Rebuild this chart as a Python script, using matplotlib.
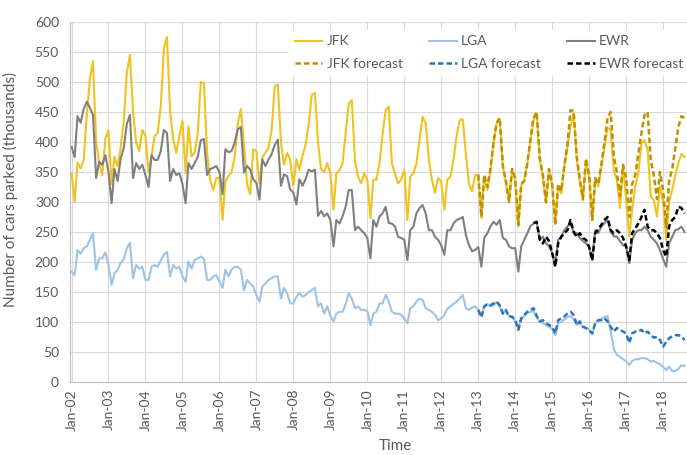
import matplotlib
matplotlib.use('Agg')
import matplotlib.pyplot as plt
import matplotlib.dates as mdates
import pandas as pd

plt.rcParams['font.family'] = ['Lato', 'DejaVu Sans']

## monthly parked cars (thousands), Jan-02 .. Aug-18
jfk = [348, 300, 366, 356, 370, 445, 505, 535, 400, 365, 345, 405,
       420, 330, 375, 360, 390, 435, 515, 545, 450, 400, 385, 420,
       410, 350, 375, 410, 415, 460, 555, 575, 450, 405, 382, 410,
       435, 348, 426, 376, 382, 415, 500, 498, 382, 337, 320, 340,
       340, 270, 335, 343, 350, 375, 430, 455, 395, 330, 313, 388,
       385, 330, 374, 382, 390, 420, 493, 496, 399, 362, 382, 371,
       327, 371, 354, 377, 395, 430, 478, 482, 400, 355, 350, 365,
       348, 287, 348, 353, 364, 414, 464, 470, 370, 342, 331, 348,
       337, 273, 337, 337, 364, 414, 453, 459, 364, 348, 331, 337,
       353, 270, 342, 348, 364, 403, 442, 431, 370, 337, 315, 340,
       334, 287, 337, 342, 370, 410, 436, 438, 380, 330, 318, 345,
       345, 273, 342, 320, 353, 398, 431, 439, 359, 331, 303, 353,
       337, 259, 328, 337, 364, 403, 437, 448, 370, 342, 298, 353,
       326, 264, 326, 314, 359, 392, 426, 448, 370, 334, 303, 370,
       342, 270, 337, 326, 359, 392, 424, 420, 353, 337, 290, 359,
       303, 243, 287, 326, 348, 398, 403, 387, 309, 303, 276, 326,
       300, 237, 300, 320, 345, 365, 380, 375]

lga = [184, 178, 220, 214, 223, 226, 237, 248, 187, 206, 206, 216,
       195, 162, 181, 187, 198, 205, 223, 232, 173, 195, 189, 192,
       170, 170, 192, 195, 192, 203, 212, 217, 176, 195, 189, 192,
       176, 167, 201, 189, 203, 206, 209, 206, 170, 170, 176, 178,
       168, 157, 187, 176, 187, 192, 192, 187, 153, 170, 164, 159,
       145, 134, 159, 164, 170, 173, 176, 176, 139, 157, 148, 131,
       131, 142, 148, 142, 145, 150, 153, 157, 126, 131, 114, 126,
       110, 101, 114, 117, 117, 130, 148, 139, 123, 126, 120, 120,
       118, 95, 114, 117, 131, 131, 145, 134, 117, 114, 114, 112,
       106, 98, 123, 126, 134, 139, 137, 123, 120, 117, 112, 103,
       106, 112, 122, 126, 130, 134, 139, 145, 123, 120, 124, 126,
       120, 110, 125, 130, 126, 128, 133, 126, 115, 118, 110, 108,
       102, 90, 105, 110, 115, 117, 118, 108, 100, 98, 95, 92,
       88, 78, 98, 100, 104, 108, 110, 105, 95, 98, 92, 90,
       88, 80, 98, 102, 105, 108, 110, 85, 55, 45, 42, 38,
       35, 28, 35, 38, 38, 40, 40, 38, 34, 35, 32, 30,
       25, 20, 26, 18, 18, 22, 28, 27]

ewr = [392, 375, 443, 432, 455, 467, 457, 445, 340, 367, 362, 378,
       350, 298, 355, 335, 372, 390, 430, 445, 340, 365, 355, 362,
       345, 325, 378, 370, 370, 385, 420, 415, 335, 355, 345, 348,
       330, 298, 365, 355, 365, 375, 403, 405, 345, 355, 357, 360,
       350, 313, 388, 383, 385, 399, 421, 425, 349, 360, 354, 338,
       332, 304, 371, 360, 371, 380, 395, 404, 327, 346, 343, 321,
       316, 296, 338, 327, 338, 354, 351, 354, 277, 285, 276, 281,
       270, 226, 270, 264, 276, 292, 320, 320, 253, 259, 253, 248,
       240, 206, 270, 259, 276, 281, 292, 265, 264, 259, 242, 240,
       237, 203, 253, 259, 281, 290, 295, 281, 253, 253, 242, 237,
       228, 212, 253, 253, 264, 270, 272, 275, 245, 228, 218, 220,
       225, 192, 240, 248, 259, 267, 262, 270, 240, 237, 226, 223,
       223, 184, 226, 237, 248, 260, 264, 266, 237, 242, 231, 226,
       215, 195, 237, 242, 253, 259, 265, 250, 248, 240, 235, 231,
       226, 203, 253, 248, 259, 265, 270, 250, 243, 242, 235, 228,
       226, 198, 237, 248, 253, 253, 259, 253, 242, 237, 231, 220,
       205, 192, 231, 242, 253, 255, 259, 250]

# forecasts: JFK and LGA from Jan-13, EWR from Jul-14
jfk_fc = [345, 275, 345, 325, 355, 400, 432, 440, 360, 335, 300, 355,
          340, 262, 330, 335, 365, 405, 440, 450, 372, 345, 300, 355,
          330, 262, 330, 318, 360, 395, 453, 452, 376, 338, 305, 372,
          345, 270, 340, 330, 362, 400, 440, 450, 376, 350, 310, 362,
          340, 275, 330, 345, 380, 415, 445, 450, 370, 345, 305, 350,
          320, 258, 335, 355, 390, 425, 443, 440]

lga_fc = [120, 108, 126, 130, 128, 131, 134, 128, 114, 120, 109, 109,
          103, 87, 106, 112, 117, 120, 123, 110, 101, 103, 98, 95,
          92, 81, 103, 106, 109, 114, 117, 112, 95, 101, 92, 90,
          86, 81, 98, 103, 103, 106, 101, 92, 84, 90, 87, 84,
          81, 65, 81, 84, 84, 87, 81, 84, 78, 74, 75, 70,
          59, 67, 73, 76, 78, 78, 76, 70]

ewr_fc = [265, 267, 237, 231, 242, 235,
          215, 192, 231, 242, 248, 253, 270, 250, 242, 248, 240, 237,
          225, 203, 248, 255, 262, 270, 275, 253, 248, 253, 248, 240,
          226, 203, 248, 256, 264, 275, 287, 259, 253, 253, 248, 240,
          220, 209, 259, 270, 275, 292, 290, 281]

dates = pd.date_range('2002-01-01', periods=len(jfk), freq='MS')
dates_fc = pd.date_range('2013-01-01', periods=len(jfk_fc), freq='MS')
dates_ewr_fc = pd.date_range('2014-07-01', periods=len(ewr_fc), freq='MS')

txt = '#595959'
fig = plt.figure(figsize=(6.87, 4.55), dpi=100)
ax = fig.add_axes([70/687, 73/455, 617/687, 360/455])

l1, = ax.plot(dates, jfk, color='#F2C21E', lw=1.5, label='JFK')
l2, = ax.plot(dates, lga, color='#9DC3E6', lw=1.5, label='LGA')
l3, = ax.plot(dates, ewr, color='#7F7F7F', lw=1.5, label='EWR')
l4, = ax.plot(dates_fc, jfk_fc, color='#BF9000', lw=1.8, dashes=(2.2, 1.2), label='JFK forecast')
l5, = ax.plot(dates_fc, lga_fc, color='#2E75B6', lw=1.8, dashes=(2.2, 1.2), label='LGA forecast')
l6, = ax.plot(dates_ewr_fc, ewr_fc, color='black', lw=1.8, dashes=(2.2, 1.2), label='EWR forecast')

ax.set_ylim(0, 600)
ax.set_yticks(range(0, 601, 50))
ax.set_xlim(pd.Timestamp('2001-12-17'), pd.Timestamp('2018-08-25'))
ax.xaxis.set_major_locator(mdates.YearLocator(1, month=1, day=1))
ax.xaxis.set_major_formatter(mdates.DateFormatter('%b-%y'))
plt.setp(ax.get_xticklabels(), rotation=90)
ax.tick_params(length=0, labelsize=10, colors=txt)
ax.tick_params(axis='y', pad=8)
ax.tick_params(axis='x', pad=5)

ax.grid(True, color='#D9D9D9', lw=0.8)
ax.set_axisbelow(True)
for s in ['top', 'right']:
    ax.spines[s].set_visible(False)
for s in ['left', 'bottom']:
    ax.spines[s].set_color('#BFBFBF')
    ax.spines[s].set_linewidth(0.8)

ax.set_xlabel('Time', fontsize=11, color=txt)
ax.xaxis.set_label_coords((395-70)/617, -0.158)
ax.set_ylabel('Number of cars parked (thousands)', fontsize=11, color=txt)
ax.yaxis.set_label_coords(-0.085, 0.535)

leg = ax.legend(handles=[l1, l4, l2, l5, l3, l6], ncol=3, loc='upper left',
                bbox_to_anchor=(0.355, 0.978), fontsize=10, frameon=True,
                facecolor='white', edgecolor='white', framealpha=1,
                handlelength=2.0, handletextpad=0.3, columnspacing=1.9,
                labelspacing=0.75, borderaxespad=0, labelcolor=txt)

fig.savefig('out.png', dpi=100)
